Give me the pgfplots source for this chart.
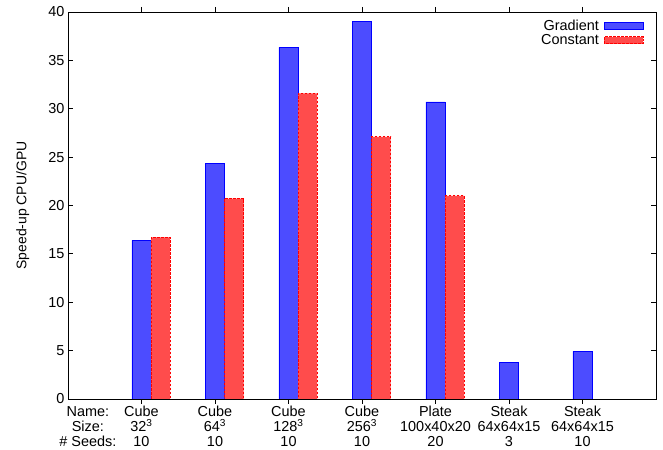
\documentclass[border=0pt]{standalone}
\usepackage{fontspec}
\setmainfont{Liberation Sans}
\usepackage{pgfplots}
\pgfplotsset{compat=1.18}
\begin{document}
\begin{tikzpicture}
\begin{axis}[
    scale only axis,
    width=588bp, height=387bp,
    xmin=-1, xmax=7,
    ymin=0, ymax=40,
    ybar, bar width=0.26,
    ytick={0,5,...,40},
    xtick={0,...,6},
    xticklabels={
        {Cube\\32\textsuperscript{3}\\10},
        {Cube\\64\textsuperscript{3}\\10},
        {Cube\\128\textsuperscript{3}\\10},
        {Cube\\256\textsuperscript{3}\\10},
        {Plate\\100x40x20\\20},
        {Steak\\64x64x15\\3},
        {Steak\\64x64x15\\10}},
    extra x ticks={-0.73},
    extra x tick labels={{Name:\\Size:\\\# Seeds:}},
    extra x tick style={major tick style={draw=none}, tick label style={align=right}},
    tick label style={font=\fontsize{14.5}{15}\selectfont},
    x tick label style={align=center, inner sep=2bp},
    /pgf/number format/assume math mode=true,
    major tick length=5bp,
    tick style={black, line width=0.8pt},
    axis line style={line width=0.8pt},
    ylabel={Speed-up CPU/GPU},
    ylabel style={at={(axis description cs:-0.077,0.5)}, anchor=center,
                  font=\fontsize{14}{15}\selectfont},
    legend image code/.code={\draw[#1] (0bp,-3.5bp) rectangle (39bp,3.5bp);},
    legend plot pos=right,
    legend cell align=right,
    legend style={draw=none, fill=none, at={(rel axis cs:1,1)}, anchor=north east,
                  xshift=-12bp, yshift=-7bp, inner sep=0pt, row sep=0pt, column sep=4bp,
                  nodes={inner sep=1bp, text height=10bp, text depth=2bp},
                  font=\fontsize{14.5}{14}\selectfont},
]
\addplot[draw=blue, fill=blue!70, line width=0.8pt, bar shift=0] coordinates {
    (0,16.4) (1,24.3) (2,36.35) (3,39.0) (4,30.7) (5,3.8) (6,4.93)
};
\addplot[draw=red, fill=red!70, line width=0.8pt, dash pattern=on 2.5pt off 1.5pt, bar shift=0.26] coordinates {
    (0,16.7) (1,20.7) (2,31.6) (3,27.1) (4,21.0)
};
\legend{Gradient, Constant}
\end{axis}
\path ([shift={(-68bp,-51bp)}]current axis.south west) rectangle ([shift={(7bp,12bp)}]current axis.north east);
\end{tikzpicture}
\end{document}
